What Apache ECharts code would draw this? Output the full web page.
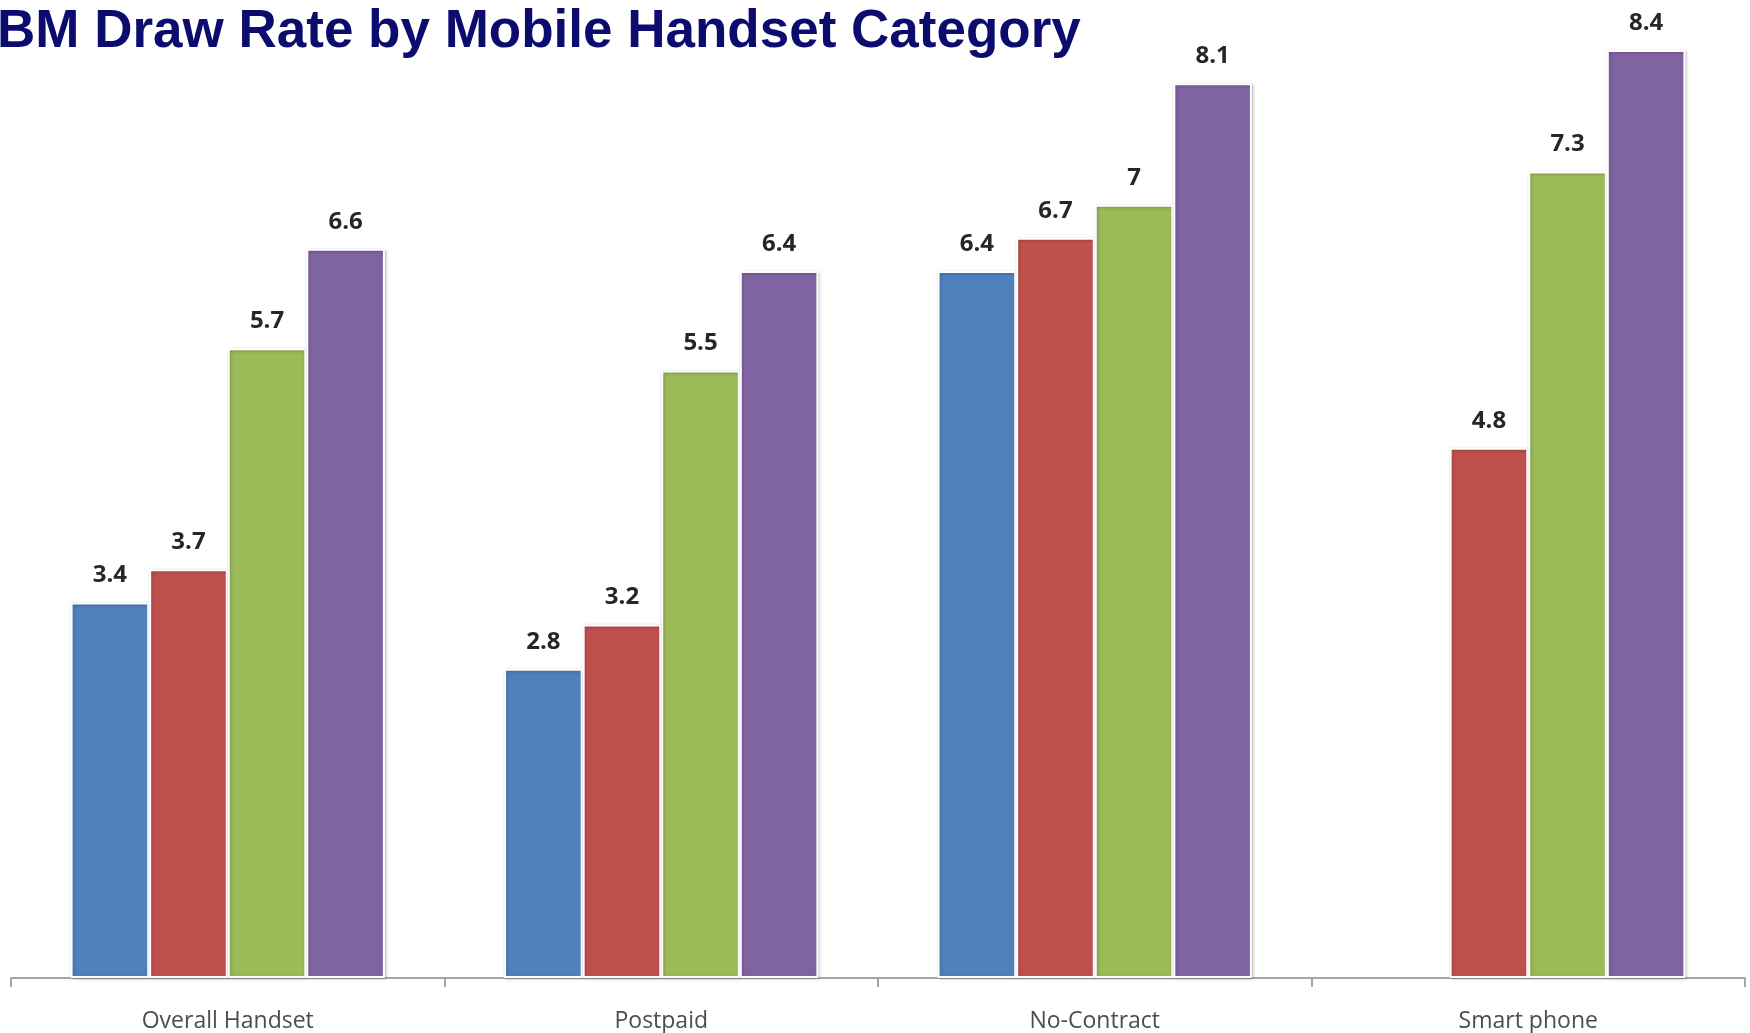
<!DOCTYPE html>
<html>
<head>
<meta charset="utf-8">
<script src="https://cdn.jsdelivr.net/npm/echarts@6/dist/echarts.min.js"></script>
<style>
  html, body { margin: 0; padding: 0; background: #ffffff; }
  #chart { width: 1750px; height: 1033px; }
</style>
</head>
<body>
<div id="chart"></div>
<script>
// Handset categories along the x axis
const categories = ['Overall Handset', 'Postpaid', 'No-Contract', 'Smart phone'];

// Draw rate per category, one array per series (null = no bar)
const seriesA = [3.4, 2.8, 6.4, null];
const seriesB = [3.7, 3.2, 6.7, 4.8];
const seriesC = [5.7, 5.5, 7.0, 7.3];
const seriesD = [6.6, 6.4, 8.1, 8.4];

const titleText = 'BM Draw Rate by Mobile Handset Category';

const palette = ['#4F81BD', '#C0504D', '#9BBB59', '#8064A2'];

function barSeries(name, values, color) {
  return {
    name: name,
    type: 'bar',
    data: values,
    barGap: '0%',
    barCategoryGap: '27.5%',
    itemStyle: {
      color: color,
      borderColor: '#ffffff',
      borderWidth: 2,
      shadowColor: 'rgba(0,0,0,0.25)',
      shadowBlur: 3,
      shadowOffsetX: 1,
      shadowOffsetY: 1
    },
    label: {
      show: true,
      position: 'top',
      distance: 15,
      fontFamily: 'Open Sans',
      fontWeight: 'bold',
      fontSize: 24,
      color: '#262626',
      formatter: p => String(p.value)
    }
  };
}

const chart = echarts.init(document.getElementById('chart'));
chart.setOption({
  animation: false,
  backgroundColor: '#ffffff',
  title: {
    text: titleText,
    left: -3,
    top: 6,
    padding: 0,
    textStyle: {
      fontFamily: 'Liberation Sans, Arial, sans-serif',
      fontWeight: 'bold',
      fontSize: 53,
      color: '#0C0C6E'
    }
  },
  grid: { left: 11, right: 5, top: 50, bottom: 54, containLabel: false },
  xAxis: {
    type: 'category',
    data: categories,
    boundaryGap: true,
    axisLine: { show: true, lineStyle: { color: '#a6a6a6', width: 2 } },
    axisTick: { show: true, alignWithLabel: false, length: 9, lineStyle: { color: '#a6a6a6', width: 2 } },
    axisLabel: {
      margin: 32,
      fontFamily: 'Open Sans',
      fontSize: 23,
      color: '#4d4d4d'
    }
  },
  yAxis: {
    type: 'value',
    min: 0,
    max: v => v.max,
    show: false,
    splitLine: { show: false }
  },
  series: [
    barSeries('A', seriesA, palette[0]),
    barSeries('B', seriesB, palette[1]),
    barSeries('C', seriesC, palette[2]),
    barSeries('D', seriesD, palette[3])
  ]
});
</script>
</body>
</html>
